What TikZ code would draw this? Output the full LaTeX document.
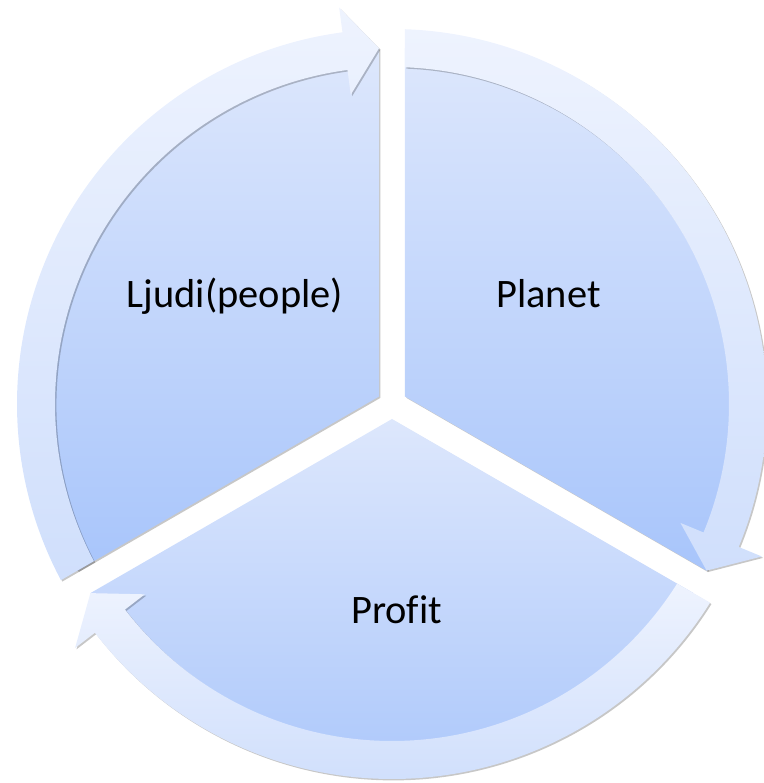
\documentclass[tikz,border=0pt]{standalone}
\usepackage{fontspec}
\setmainfont{Carlito}[Ligatures=NoCommon]
\usetikzlibrary{shadows}
\definecolor{pietop}{HTML}{DDE7FC}
\definecolor{piebot}{HTML}{A8C5FB}
\definecolor{ringtop}{HTML}{EEF3FE}
\definecolor{ringbot}{HTML}{D0DFFC}
\begin{document}
\begin{tikzpicture}[x=0.02cm,y=0.02cm,
  wedge/.style={top color=pietop,bottom color=piebot},
  band/.style={top color=ringtop,bottom color=ringbot},
  dropshade/.style={drop shadow={shadow xshift=0.8pt,shadow yshift=-0.8pt,opacity=.22,fill=black}},
  caption/.style={font=\fontsize{23}{28}\selectfont,anchor=base}]
\useasboundingbox (-392,-379) rectangle (371,404);
\foreach \a/\lx/\ly/\t[count=\i] in {210/-157/96/Ljudi(people),90/156.5/96/Planet,-30/4.5/-219/Profit}{
  \pgfmathsetmacro\b{\a-120}
  \pgfmathsetmacro\si{\a-asin(13/337)}
  \pgfmathsetmacro\so{\a-asin(13/375)}
  \pgfmathsetmacro\sm{\a-asin(13/356)}
  \pgfmathsetmacro\tip{\b+asin(13/356)}
  \pgfmathsetmacro\base{\tip+5.5}
  \path[wedge,dropshade] (\a-60:15) -- (\sm:356) arc[start angle=\sm,end angle=\tip,radius=356] -- cycle;
  \path[band,dropshade] (\so:375) arc[start angle=\so,end angle=\base,radius=375]
    -- (\base:400) -- (\tip:356) -- (\base:312) -- (\base:337)
    arc[start angle=\base,end angle=\si,radius=337] -- cycle;
  \node[caption] (seg\i) at (\lx,\ly) {\t};
}
\end{tikzpicture}
\end{document}
